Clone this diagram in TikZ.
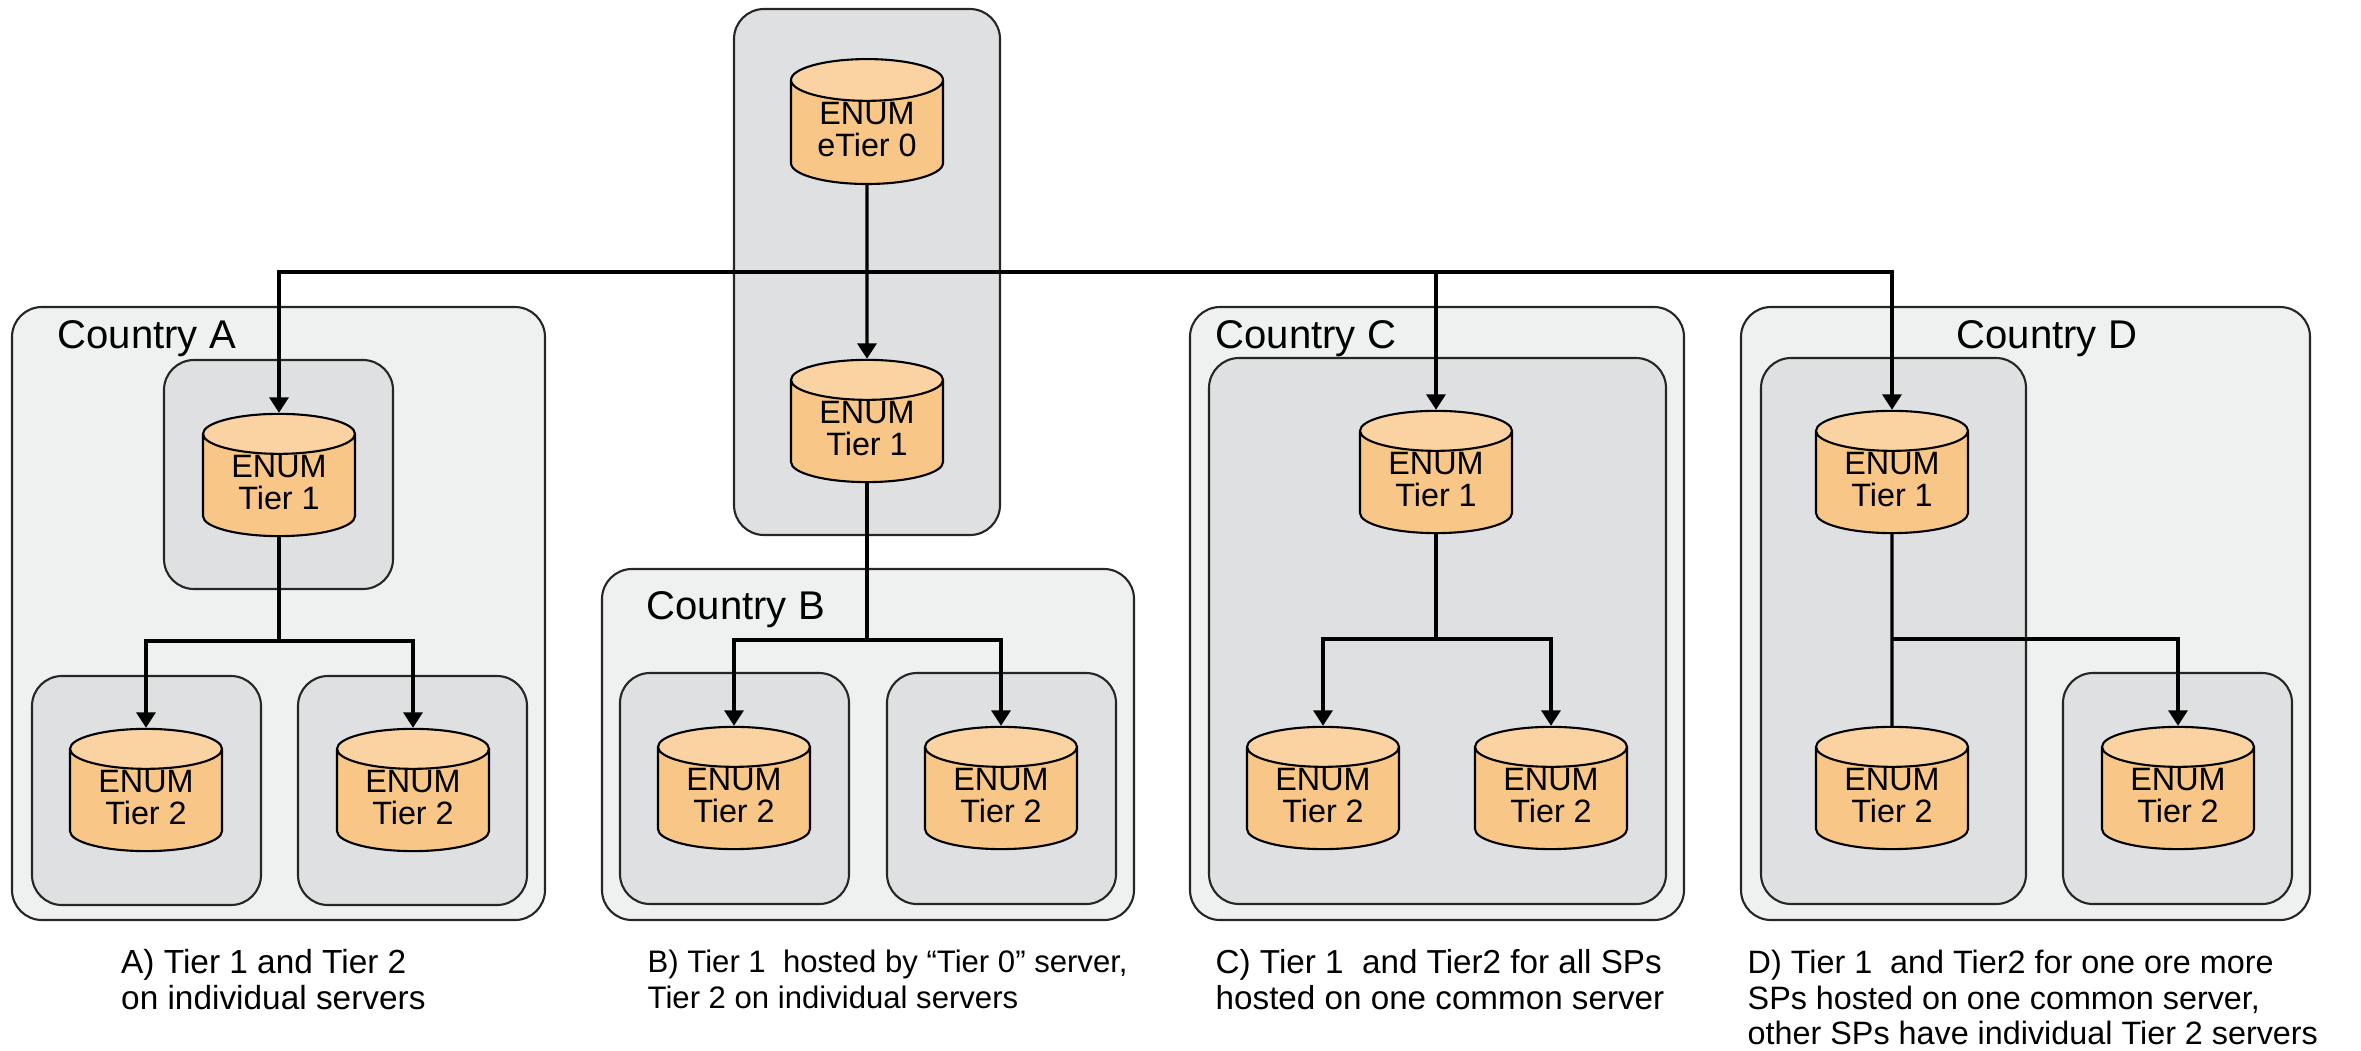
\documentclass[tikz,border=0pt]{standalone}
\usepackage{fontspec}
\setmainfont{Liberation Sans}
\usepackage{tikz}
\usetikzlibrary{shapes,arrows.meta}
\definecolor{countrygray}{HTML}{EFF1F0}
\definecolor{servergray}{HTML}{DFE0E2}
\definecolor{dbbody}{HTML}{F8C686}
\definecolor{dbtop}{HTML}{FBD3A2}
\tikzstyle{line} = [draw, -{Triangle[width=5.4pt,length=4.4pt]}, line width=0.95pt]
\tikzstyle{wire} = [draw, line width=0.95pt]
\tikzstyle{country} = [rectangle, draw=black!85, fill=countrygray, line width=0.6pt, rounded corners=0.3cm, inner sep=0pt]
\tikzstyle{server} = [rectangle, draw=black!85, fill=servergray, line width=0.6pt, rounded corners=0.3cm, inner sep=0pt]
\tikzstyle{db} = [cylinder, shape border rotate=90, aspect=0.42, draw=black, line width=0.6pt, cylinder uses custom fill, cylinder body fill=dbbody, cylinder end fill=dbtop, minimum width=1.52cm, minimum height=1.22cm, inner sep=0pt, text depth=0.07cm, align=center, font=\fontsize{9.2}{9.1}\selectfont]
\tikzstyle{title} = [anchor=west, inner sep=0pt, font=\fontsize{11.4}{12}\selectfont]
\tikzstyle{caption} = [anchor=north west, inner sep=0pt, align=left, font=\fontsize{9.2}{10.2}\selectfont]

\begin{document}
\begin{tikzpicture}
	\useasboundingbox (0,0) rectangle (23.61,-10.5);
	
	% frames
	\node [server, minimum width=2.66cm, minimum height=5.26cm] (root) at (8.67,-2.72) {};
	\node [country, minimum width=5.33cm, minimum height=6.13cm] (ctryA) at (2.785,-6.135) {};
	\node [country, minimum width=5.32cm, minimum height=3.51cm] (ctryB) at (8.68,-7.445) {};
	\node [country, minimum width=4.94cm, minimum height=6.13cm] (ctryC) at (14.37,-6.135) {};
	\node [country, minimum width=5.69cm, minimum height=6.13cm] (ctryD) at (20.255,-6.135) {};
	\node [server, minimum width=2.29cm, minimum height=2.29cm] (srvA1) at (2.785,-4.745) {};
	\node [server, minimum width=2.29cm, minimum height=2.29cm] (srvA2) at (1.465,-7.905) {};
	\node [server, minimum width=2.29cm, minimum height=2.29cm] (srvA3) at (4.125,-7.905) {};
	\node [server, minimum width=2.29cm, minimum height=2.31cm] (srvB1) at (7.345,-7.885) {};
	\node [server, minimum width=2.29cm, minimum height=2.31cm] (srvB2) at (10.015,-7.885) {};
	\node [server, minimum width=4.57cm, minimum height=5.46cm] (srvC) at (14.375,-6.31) {};
	\node [server, minimum width=2.65cm, minimum height=5.46cm] (srvD1) at (18.935,-6.31) {};
	\node [server, minimum width=2.29cm, minimum height=2.31cm] (srvD2) at (21.775,-7.885) {};
	
	\node [title] (lblA) at (0.57,-3.385) {Country A};
	\node [title] (lblB) at (6.46,-6.095) {Country B};
	\node [title] (lblC) at (12.15,-3.385) {Country C};
	\node [title] (lblD) at (19.56,-3.385) {Country D};
	
	% databases
	\node [db] (t0) at (8.67,-1.325) {ENUM\\eTier 0};
	\node [db, below of=t0, node distance=2.99cm] (t1b) {ENUM\\Tier 1};
	\node [db, below of=t1b, node distance=3.67cm, xshift=-1.33cm] (t2b1) {ENUM\\Tier 2};
	\node [db, below of=t1b, node distance=3.67cm, xshift=1.34cm] (t2b2) {ENUM\\Tier 2};
	\node [db] (t1a) at (2.79,-4.855) {ENUM\\Tier 1};
	\node [db, below of=t1a, node distance=3.15cm, xshift=-1.33cm] (t2a1) {ENUM\\Tier 2};
	\node [db, below of=t1a, node distance=3.15cm, xshift=1.34cm] (t2a2) {ENUM\\Tier 2};
	\node [db] (t1c) at (14.36,-4.825) {ENUM\\Tier 1};
	\node [db, below of=t1c, node distance=3.16cm, xshift=-1.13cm] (t2c1) {ENUM\\Tier 2};
	\node [db, below of=t1c, node distance=3.16cm, xshift=1.15cm] (t2c2) {ENUM\\Tier 2};
	\node [db] (t1d) at (18.92,-4.825) {ENUM\\Tier 1};
	\node [db, below of=t1d, node distance=3.16cm] (t2d1) {ENUM\\Tier 2};
	\node [db, below of=t2d1, node distance=0cm, xshift=2.86cm] (t2d2) {ENUM\\Tier 2};
	
	% connectors
	\coordinate (bus) at (8.67,-2.72);
	\coordinate (jA) at (2.79,-6.41);
	\coordinate (jB) at (8.67,-6.40);
	\coordinate (jC) at (14.36,-6.39);
	\coordinate (jD) at (18.92,-6.39);
	
	\path [line] (t0.south) -- (t1b.north);
	\path [line] (bus) -| (t1a.north);
	\path [line] (bus) -| (t1c.north);
	\path [line] (bus) -| (t1d.north);
	
	\path [wire] (t1a.south) -- (jA);
	\path [line] (jA) -| (t2a1.north);
	\path [line] (jA) -| (t2a2.north);
	
	\path [wire] (t1b.south) -- (jB);
	\path [line] (jB) -| (t2b1.north);
	\path [line] (jB) -| (t2b2.north);
	
	\path [wire] (t1c.south) -- (jC);
	\path [line] (jC) -| (t2c1.north);
	\path [line] (jC) -| (t2c2.north);
	
	\path [wire] (t1d.south) -- (t2d1.north);
	\path [line] (jD) -| (t2d2.north);
	
	% captions
	\node [caption, font=\fontsize{9.5}{10.2}\selectfont] (capA) at (1.205,-9.49) {A) Tier 1 and Tier 2\\on individual servers};
	\node [caption, font=\fontsize{8.85}{10.2}\selectfont] (capB) at (6.47,-9.49) {B) Tier 1\ \ hosted by “Tier 0” server,\\Tier 2 on individual servers};
	\node [caption, font=\fontsize{9.45}{10.2}\selectfont] (capC) at (12.15,-9.49) {C) Tier 1\ \ and Tier2 for all SPs\\hosted on one common server};
	\node [caption] (capD) at (17.47,-9.49) {D) Tier 1\ \ and Tier2 for one ore more\\SPs hosted on one common server,\\other SPs have individual Tier 2 servers};
\end{tikzpicture}
\end{document}
